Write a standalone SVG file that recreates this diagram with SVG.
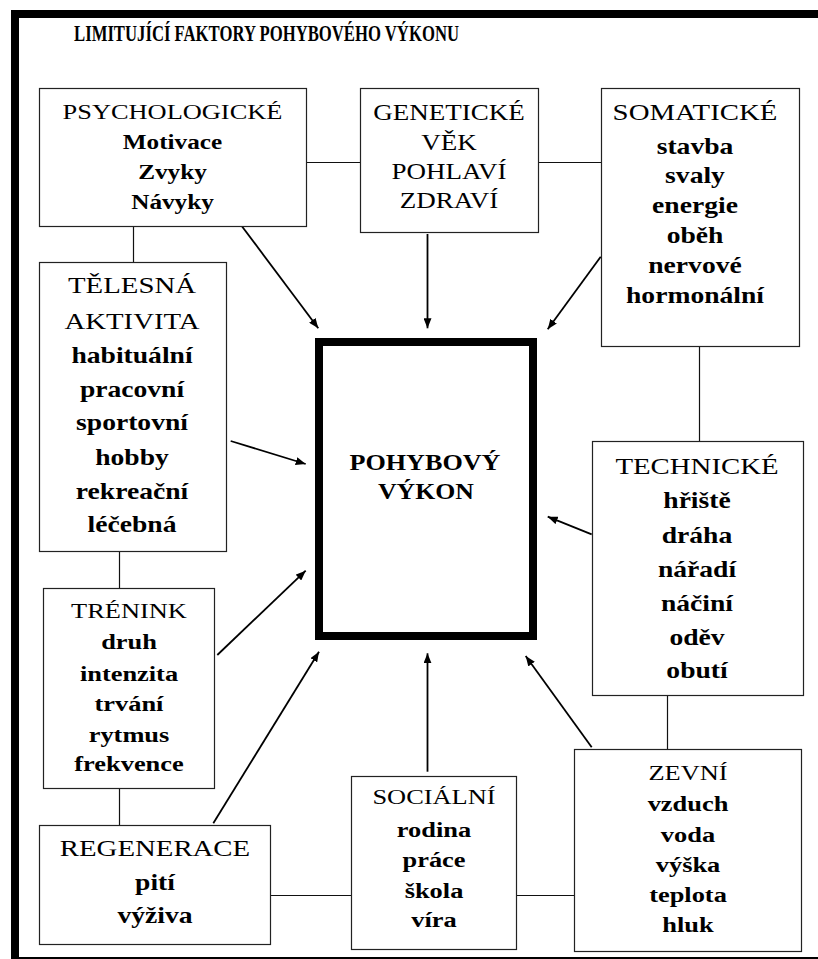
<svg xmlns="http://www.w3.org/2000/svg" width="818" height="959" viewBox="0 0 818 959" font-family="Liberation Serif, Times New Roman, serif">
<defs>
<style>
.box{fill:#fff;stroke:#222;stroke-width:1.2}
.con{stroke:#111;stroke-width:1.2;fill:none}
.arr{stroke:#000;stroke-width:1.8;fill:none;marker-end:url(#ah)}
text{font-family:Liberation Serif, Times New Roman, serif;fill:#000;text-anchor:middle}
.h{font-weight:normal}
.i{font-weight:bold}
</style>
<marker id="ah" markerUnits="userSpaceOnUse" viewBox="0 0 10 8" markerWidth="10" markerHeight="8" refX="10" refY="4" orient="auto">
<path d="M0,0 L10,4 L0,8 z" fill="#000"/>
</marker>
</defs>
<rect width="818" height="959" fill="#fff"/>
<g id="frame">
<rect x="11" y="10" width="8" height="949" fill="#000"/>
<rect x="11" y="10" width="807" height="8" fill="#000"/>
<rect x="11" y="957" width="807" height="2" fill="#000"/>
</g>
<text x="266.5" y="41" font-size="23" font-weight="bold" textLength="385" lengthAdjust="spacingAndGlyphs">LIMITUJÍCÍ FAKTORY POHYBOVÉHO VÝKONU</text>

<g id="connectors">
<path class="con" d="M307,162.5 H360"/>
<path class="con" d="M539,162.5 H601"/>
<path class="con" d="M133.5,223 V262"/>
<path class="con" d="M119.5,552 V588"/>
<path class="con" d="M119.5,789 V825"/>
<path class="con" d="M271,895.5 H351"/>
<path class="con" d="M512,895.5 H580"/>
<path class="con" d="M699.5,347 V441"/>
<path class="con" d="M667.5,690 V749"/>
<path class="arr" d="M239.3,222.7 L318.3,328.3"/>
<path class="arr" d="M427.5,234 L427.5,328.3"/>
<path class="arr" d="M600.7,256.7 L547.7,329.3"/>
<path class="arr" d="M230.7,441 L305.7,464"/>
<path class="arr" d="M217.3,655 L305.7,570.7"/>
<path class="arr" d="M213.3,823.3 L319,651.7"/>
<path class="arr" d="M427.5,771.7 L427.5,653.3"/>
<path class="arr" d="M591.7,747.3 L525.7,656"/>
<path class="arr" d="M591.7,534.3 L547.7,516.7"/>
</g>

<g id="center">
<rect x="319" y="342" width="214" height="294" fill="#fff" stroke="#000" stroke-width="8"/>
<text x="425" y="470" font-size="24" font-weight="bold" textLength="151" lengthAdjust="spacingAndGlyphs">POHYBOVÝ</text>
<text x="426" y="499" font-size="24" font-weight="bold" textLength="96" lengthAdjust="spacingAndGlyphs">VÝKON</text>
</g>

<g id="psychologicke">
<rect class="box" x="39.5" y="88.5" width="267" height="138"/>
<g transform="translate(172.5 0) scale(1.2 1)">
<text class="h" x="0" y="119" font-size="22">PSYCHOLOGICKÉ</text>
<text class="i" x="0" y="149" font-size="21">Motivace</text>
<text class="i" x="0" y="179" font-size="21">Zvyky</text>
<text class="i" x="0" y="209" font-size="21">Návyky</text>
</g>
</g>

<g id="geneticke">
<rect class="box" x="360.5" y="88.5" width="178" height="144"/>
<g transform="translate(449 0) scale(1.2 1)">
<text class="h" x="0" y="120" font-size="22.5">GENETICKÉ</text>
<text class="h" x="0" y="150" font-size="22.5">VĚK</text>
<text class="h" x="0" y="179" font-size="22.5">POHLAVÍ</text>
<text class="h" x="0" y="208" font-size="22.5">ZDRAVÍ</text>
</g>
</g>

<g id="somaticke">
<rect class="box" x="601.5" y="88.5" width="198" height="258"/>
<g transform="translate(695 0) scale(1.2 1)">
<text class="h" x="0" y="120" font-size="24">SOMATICKÉ</text>
<text class="i" x="0" y="154" font-size="23">stavba</text>
<text class="i" x="0" y="183" font-size="23">svaly</text>
<text class="i" x="0" y="213" font-size="23">energie</text>
<text class="i" x="0" y="243" font-size="23">oběh</text>
<text class="i" x="0" y="273" font-size="23">nervové</text>
<text class="i" x="0" y="303" font-size="23">hormonální</text>
</g>
</g>

<g id="telesna-aktivita">
<rect class="box" x="39.5" y="262.5" width="187" height="289"/>
<g transform="translate(132 0) scale(1.2 1)">
<text class="h" x="0" y="293" font-size="24">TĚLESNÁ</text>
<text class="h" x="0" y="329" font-size="24">AKTIVITA</text>
<text class="i" x="0" y="363" font-size="23">habituální</text>
<text class="i" x="0" y="397" font-size="23">pracovní</text>
<text class="i" x="0" y="430" font-size="23">sportovní</text>
<text class="i" x="0" y="465" font-size="23">hobby</text>
<text class="i" x="0" y="499" font-size="23">rekreační</text>
<text class="i" x="0" y="532" font-size="23">léčebná</text>
</g>
</g>

<g id="trenink">
<rect class="box" x="43.5" y="588.5" width="171" height="200"/>
<g transform="translate(129 0) scale(1.2 1)">
<text class="h" x="0" y="618" font-size="22">TRÉNINK</text>
<text class="i" x="0" y="649" font-size="22">druh</text>
<text class="i" x="0" y="681" font-size="22">intenzita</text>
<text class="i" x="0" y="711" font-size="22">trvání</text>
<text class="i" x="0" y="742" font-size="22">rytmus</text>
<text class="i" x="0" y="771" font-size="22">frekvence</text>
</g>
</g>

<g id="regenerace">
<rect class="box" x="39.5" y="825.5" width="231" height="119"/>
<g transform="translate(155 0) scale(1.2 1)">
<text class="h" x="0" y="856" font-size="24">REGENERACE</text>
<text class="i" x="0" y="890" font-size="23">pití</text>
<text class="i" x="0" y="923" font-size="23">výživa</text>
</g>
</g>

<g id="socialni">
<rect class="box" x="351.5" y="776.5" width="165" height="173"/>
<g transform="translate(434 0) scale(1.2 1)">
<text class="h" x="0" y="804" font-size="22">SOCIÁLNÍ</text>
<text class="i" x="0" y="837" font-size="22">rodina</text>
<text class="i" x="0" y="867" font-size="22">práce</text>
<text class="i" x="0" y="898" font-size="22">škola</text>
<text class="i" x="0" y="927" font-size="22">víra</text>
</g>
</g>

<g id="technicke">
<rect class="box" x="592.5" y="441.5" width="211" height="254"/>
<g transform="translate(697 0) scale(1.2 1)">
<text class="h" x="0" y="474" font-size="24">TECHNICKÉ</text>
<text class="i" x="0" y="508" font-size="23">hřiště</text>
<text class="i" x="0" y="543" font-size="23">dráha</text>
<text class="i" x="0" y="577" font-size="23">nářadí</text>
<text class="i" x="0" y="611" font-size="23">náčiní</text>
<text class="i" x="0" y="645" font-size="23">oděv</text>
<text class="i" x="0" y="678" font-size="23">obutí</text>
</g>
</g>

<g id="zevni">
<rect class="box" x="574.5" y="749.5" width="227" height="202"/>
<g transform="translate(688 0) scale(1.2 1)">
<text class="h" x="0" y="780" font-size="22">ZEVNÍ</text>
<text class="i" x="0" y="811" font-size="22">vzduch</text>
<text class="i" x="0" y="842" font-size="22">voda</text>
<text class="i" x="0" y="872" font-size="22">výška</text>
<text class="i" x="0" y="902" font-size="22">teplota</text>
<text class="i" x="0" y="932" font-size="22">hluk</text>
</g>
</g>
</svg>
